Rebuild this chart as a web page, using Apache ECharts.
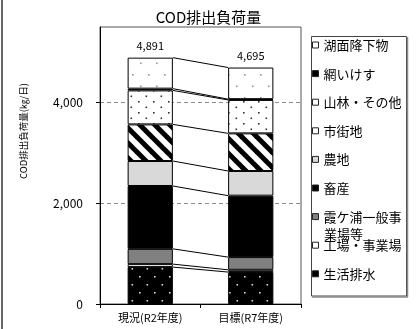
<!DOCTYPE html>
<html>
<head>
<meta charset="utf-8">
<script src="https://cdn.jsdelivr.net/npm/echarts@6/dist/echarts.min.js"></script>
<style>
  html, body { margin: 0; padding: 0; background: #fff; }
  #chart { width: 417px; height: 329px; }
</style>
</head>
<body>
<div id="chart"></div>
<script>
// COD discharge load by source (kg/day), stacked from the bottom up
const categories = ['現況(R2年度)', '目標(R7年度)'];
const sourceNames = ['生活排水', '工場・事業場', '霞ケ浦一般事業場等', '畜産', '農地', '市街地', '山林・その他', '網いけす', '湖面降下物'];
const loadR2 = [733, 59, 303, 1248, 496, 727, 675, 35, 615];
const loadR7 = [634, 45, 252, 1220, 490, 747, 664, 15, 628];
const yTicks = [0, 2000, 4000];
const legendOrder = ['湖面降下物', '網いけす', '山林・その他', '市街地', '農地', '畜産', '霞ケ浦一般事業場等', '工場・事業場', '生活排水'];

const FONT = '"Noto Sans CJK JP", "Noto Sans", sans-serif';
const BAR_RATIO = 0.45;

// --- fill patterns ---------------------------------------------------------
function dotPattern(bg, dot, w, h, pts, size) {
  const c = document.createElement('canvas');
  c.width = w; c.height = h;
  const g = c.getContext('2d');
  g.fillStyle = bg; g.fillRect(0, 0, w, h);
  g.fillStyle = dot;
  pts.forEach(p => g.fillRect(p[0], p[1], size, size));
  return { image: c, repeat: 'repeat' };
}
function stripePattern(period, width) {
  const c = document.createElement('canvas');
  c.width = period; c.height = period;
  const g = c.getContext('2d');
  g.fillStyle = '#fff'; g.fillRect(0, 0, period, period);
  g.strokeStyle = '#000'; g.lineWidth = width;
  for (let o = -period; o <= period; o += period) {
    g.beginPath();
    g.moveTo(o - 2, -2);
    g.lineTo(o + period + 2, period + 2);
    g.stroke();
  }
  return { image: c, repeat: 'repeat' };
}

const fills = {
  '生活排水': dotPattern('#000', '#d8d8d8', 15, 16, [[4, 4], [11.5, 12]], 1.6),
  '工場・事業場': '#ffffff',
  '霞ケ浦一般事業場等': '#808080',
  '畜産': '#000000',
  '農地': '#d9d9d9',
  '市街地': stripePattern(15, 5),
  '山林・その他': dotPattern('#fff', '#333', 15, 11, [[3, 2], [10.5, 7.5]], 1.6),
  '網いけす': '#000000',
  '湖面降下物': dotPattern('#fff', '#6a9fdc', 16, 23, [[4, 5], [12, 16.5]], 1.6)
};
const iconFills = {
  '生活排水': '#000', '工場・事業場': '#fff', '霞ケ浦一般事業場等': '#808080',
  '畜産': '#000', '農地': '#d9d9d9', '市街地': '#fff', '山林・その他': '#fff',
  '網いけす': '#000', '湖面降下物': '#fff'
};

// cumulative tops of each source, used for the connecting series lines
function cumulative(arr) { let s = 0; return arr.map(v => (s += v)); }
const cumR2 = cumulative(loadR2);
const cumR7 = cumulative(loadR7);
const totals = [cumR2[cumR2.length - 1], cumR7[cumR7.length - 1]];

const barSeries = sourceNames.map((name, i) => {
  const s = {
    name: name,
    type: 'bar',
    stack: 'load',
    barWidth: (BAR_RATIO * 100) + '%',
    z: 2,
    data: [loadR2[i], loadR7[i]],
    itemStyle: { color: fills[name], borderColor: '#000', borderWidth: 1 }
  };
  if (i === sourceNames.length - 1) {
    s.label = {
      show: true, position: 'top', distance: 6,
      fontSize: 11, color: '#000', fontFamily: FONT,
      formatter: p => totals[p.dataIndex].toLocaleString('en-US')
    };
  }
  return s;
});

const seriesLines = {
  type: 'custom',
  coordinateSystem: 'cartesian2d',
  silent: true,
  z: 3,
  data: cumR2.map((v, i) => [0, v, cumR7[i]]),
  encode: { x: 0, y: 1 },
  renderItem: function (params, api) {
    const a = api.coord([0, api.value(1)]);
    const b = api.coord([1, api.value(2)]);
    const half = api.size([1, 0])[0] * BAR_RATIO / 2;
    return {
      type: 'line',
      shape: { x1: a[0] + half, y1: a[1], x2: b[0] - half, y2: b[1] },
      style: { stroke: '#000', lineWidth: 1 }
    };
  }
};

const chart = echarts.init(document.getElementById('chart'), null, { renderer: 'canvas' });
chart.setOption({
  animation: false,
  backgroundColor: '#fff',
  textStyle: { fontFamily: FONT },
  title: {
    text: 'COD排出負荷量',
    left: 'center', top: 10, padding: 0,
    textStyle: { fontSize: 15, fontWeight: 'normal', color: '#000', fontFamily: FONT }
  },
  grid: {
    left: 100, top: 27, right: 116, bottom: 25,
    show: true, borderColor: '#555', borderWidth: 1, backgroundColor: 'transparent'
  },
  legend: {
    orient: 'vertical',
    left: 312, top: 38.5,
    padding: 0,
    itemGap: 15.6,
    itemWidth: 6, itemHeight: 6,
    icon: 'rect',
    selectedMode: false,
    textStyle: { fontSize: 13, lineHeight: 13, color: '#000', fontFamily: FONT },
    formatter: n => (n === '霞ケ浦一般事業場等' ? '霞ケ浦一般事' : n),
    data: legendOrder.map(n => ({
      name: n,
      itemStyle: { color: iconFills[n], borderColor: '#222', borderWidth: 1 }
    }))
  },
  xAxis: {
    type: 'category',
    data: categories,
    axisLine: { lineStyle: { color: '#000', width: 1 } },
    axisTick: { show: true, length: 4, lineStyle: { color: '#000' } },
    axisLabel: { color: '#000', fontSize: 11, margin: 8, fontFamily: FONT }
  },
  yAxis: {
    type: 'value',
    min: 0, max: 5500, interval: 2000,
    axisLine: { show: true, lineStyle: { color: '#000', width: 1 } },
    axisTick: { show: true, length: 4, customValues: yTicks, lineStyle: { color: '#000' } },
    axisLabel: {
      color: '#000', fontSize: 12, margin: 17, fontFamily: FONT,
      customValues: yTicks,
      formatter: v => v.toLocaleString('en-US')
    },
    splitLine: {
      show: true, showMinLine: false,
      lineStyle: { color: '#8c8c8c', type: [4, 3], width: 1 }
    }
  },
  graphic: [
    { type: 'line', silent: true, shape: { x1: 2, y1: 0, x2: 2, y2: 329 }, style: { stroke: '#333', lineWidth: 1.5 } },
    {
      type: 'text', silent: true, x: 23, y: 131, rotation: Math.PI / 2,
      style: { text: 'COD排出負荷量(㎏/日)', fontSize: 9.5, fill: '#000', fontFamily: FONT, align: 'center', verticalAlign: 'middle' }
    },
    { type: 'rect', silent: true, shape: { x: 311.5, y: 36.5, width: 95, height: 259.5 }, style: { fill: null, stroke: '#444', lineWidth: 1 }, z: 10 },
    { type: 'line', silent: true, shape: { x1: 407.5, y1: 37, x2: 407.5, y2: 297 }, style: { stroke: '#8a8a8a', lineWidth: 1.5 }, z: 10 },
    { type: 'line', silent: true, shape: { x1: 312, y1: 297, x2: 408, y2: 297 }, style: { stroke: '#8a8a8a', lineWidth: 1.5 }, z: 10 },
    { type: 'text', silent: true, x: 324, y: 228, style: { text: '業場等', fontSize: 13, fill: '#000', fontFamily: FONT }, z: 10 }
  ],
  series: barSeries.concat([seriesLines])
});
</script>
</body>
</html>
